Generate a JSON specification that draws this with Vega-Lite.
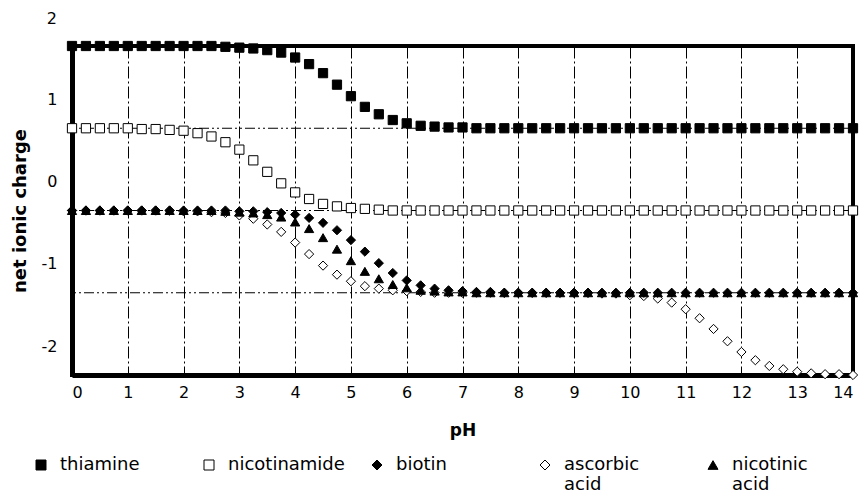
{
  "$schema": "https://vega.github.io/schema/vega-lite/v6.json",
  "width": 781,
  "height": 329,
  "autosize": {"type": "none"},
  "padding": {"left": 72, "top": 46, "right": 10, "bottom": 120},
  "background": "white",
  "config": {
    "font": "DejaVu Sans",
    "view": {"stroke": "black", "strokeWidth": 4},
    "axis": {"labelColor": "black", "titleColor": "black", "labelFont": "DejaVu Sans", "titleFont": "DejaVu Sans"},
    "legend": {
      "orient": "none", "legendX": -40, "legendY": 410,
      "direction": "horizontal", "columns": 5, "gridAlign": "all", "columnPadding": 23,
      "symbolStrokeWidth": 1,
      "labelFontSize": 18, "labelColor": "black", "labelOffset": 10, "labelLimit": 300,
      "labelBaseline": "middle"
    }
  },
  "layer": [
    {
      "data": {"values": [{"g": 0.65}, {"g": -0.35}, {"g": -1.35}]},
      "mark": {"type": "rule", "color": "black", "strokeWidth": 1, "strokeDash": [10, 3, 2, 3, 2, 3]},
      "encoding": {
        "y": {"field": "g", "type": "quantitative", "title": "net ionic charge"}
      }
    },
    {
      "data": {"values": [
        {"s":"ascorbic acid","pH":0,"q":-0.35},{"s":"ascorbic acid","pH":0.25,"q":-0.35},{"s":"ascorbic acid","pH":0.5,"q":-0.35},{"s":"ascorbic acid","pH":0.75,"q":-0.35},{"s":"ascorbic acid","pH":1,"q":-0.35},{"s":"ascorbic acid","pH":1.25,"q":-0.35},{"s":"ascorbic acid","pH":1.5,"q":-0.35},{"s":"ascorbic acid","pH":1.75,"q":-0.35},{"s":"ascorbic acid","pH":2,"q":-0.36},{"s":"ascorbic acid","pH":2.25,"q":-0.36},{"s":"ascorbic acid","pH":2.5,"q":-0.37},{"s":"ascorbic acid","pH":2.75,"q":-0.38},{"s":"ascorbic acid","pH":3,"q":-0.41},{"s":"ascorbic acid","pH":3.25,"q":-0.45},{"s":"ascorbic acid","pH":3.5,"q":-0.52},{"s":"ascorbic acid","pH":3.75,"q":-0.61},{"s":"ascorbic acid","pH":4,"q":-0.74},{"s":"ascorbic acid","pH":4.25,"q":-0.88},{"s":"ascorbic acid","pH":4.5,"q":-1.02},{"s":"ascorbic acid","pH":4.75,"q":-1.13},{"s":"ascorbic acid","pH":5,"q":-1.21},{"s":"ascorbic acid","pH":5.25,"q":-1.27},{"s":"ascorbic acid","pH":5.5,"q":-1.3},{"s":"ascorbic acid","pH":5.75,"q":-1.32},{"s":"ascorbic acid","pH":6,"q":-1.33},{"s":"ascorbic acid","pH":6.25,"q":-1.34},{"s":"ascorbic acid","pH":6.5,"q":-1.35},{"s":"ascorbic acid","pH":6.75,"q":-1.35},{"s":"ascorbic acid","pH":7,"q":-1.35},{"s":"ascorbic acid","pH":7.25,"q":-1.35},{"s":"ascorbic acid","pH":7.5,"q":-1.35},{"s":"ascorbic acid","pH":7.75,"q":-1.35},{"s":"ascorbic acid","pH":8,"q":-1.35},{"s":"ascorbic acid","pH":8.25,"q":-1.35},{"s":"ascorbic acid","pH":8.5,"q":-1.35},{"s":"ascorbic acid","pH":8.75,"q":-1.35},{"s":"ascorbic acid","pH":9,"q":-1.35},{"s":"ascorbic acid","pH":9.25,"q":-1.35},{"s":"ascorbic acid","pH":9.5,"q":-1.36},{"s":"ascorbic acid","pH":9.75,"q":-1.36},{"s":"ascorbic acid","pH":10,"q":-1.38},{"s":"ascorbic acid","pH":10.25,"q":-1.39},{"s":"ascorbic acid","pH":10.5,"q":-1.42},{"s":"ascorbic acid","pH":10.75,"q":-1.47},{"s":"ascorbic acid","pH":11,"q":-1.55},{"s":"ascorbic acid","pH":11.25,"q":-1.66},{"s":"ascorbic acid","pH":11.5,"q":-1.79},{"s":"ascorbic acid","pH":11.75,"q":-1.94},{"s":"ascorbic acid","pH":12,"q":-2.07},{"s":"ascorbic acid","pH":12.25,"q":-2.17},{"s":"ascorbic acid","pH":12.5,"q":-2.24},{"s":"ascorbic acid","pH":12.75,"q":-2.28},{"s":"ascorbic acid","pH":13,"q":-2.31},{"s":"ascorbic acid","pH":13.25,"q":-2.33},{"s":"ascorbic acid","pH":13.5,"q":-2.34},{"s":"ascorbic acid","pH":13.75,"q":-2.34},{"s":"ascorbic acid","pH":14,"q":-2.35},
        {"s":"nicotinamide","pH":0,"q":0.65},{"s":"nicotinamide","pH":0.25,"q":0.65},{"s":"nicotinamide","pH":0.5,"q":0.65},{"s":"nicotinamide","pH":0.75,"q":0.65},{"s":"nicotinamide","pH":1,"q":0.65},{"s":"nicotinamide","pH":1.25,"q":0.64},{"s":"nicotinamide","pH":1.5,"q":0.64},{"s":"nicotinamide","pH":1.75,"q":0.63},{"s":"nicotinamide","pH":2,"q":0.62},{"s":"nicotinamide","pH":2.25,"q":0.59},{"s":"nicotinamide","pH":2.5,"q":0.55},{"s":"nicotinamide","pH":2.75,"q":0.48},{"s":"nicotinamide","pH":3,"q":0.39},{"s":"nicotinamide","pH":3.25,"q":0.26},{"s":"nicotinamide","pH":3.5,"q":0.12},{"s":"nicotinamide","pH":3.75,"q":-0.02},{"s":"nicotinamide","pH":4,"q":-0.13},{"s":"nicotinamide","pH":4.25,"q":-0.21},{"s":"nicotinamide","pH":4.5,"q":-0.27},{"s":"nicotinamide","pH":4.75,"q":-0.3},{"s":"nicotinamide","pH":5,"q":-0.32},{"s":"nicotinamide","pH":5.25,"q":-0.33},{"s":"nicotinamide","pH":5.5,"q":-0.34},{"s":"nicotinamide","pH":5.75,"q":-0.35},{"s":"nicotinamide","pH":6,"q":-0.35},{"s":"nicotinamide","pH":6.25,"q":-0.35},{"s":"nicotinamide","pH":6.5,"q":-0.35},{"s":"nicotinamide","pH":6.75,"q":-0.35},{"s":"nicotinamide","pH":7,"q":-0.35},{"s":"nicotinamide","pH":7.25,"q":-0.35},{"s":"nicotinamide","pH":7.5,"q":-0.35},{"s":"nicotinamide","pH":7.75,"q":-0.35},{"s":"nicotinamide","pH":8,"q":-0.35},{"s":"nicotinamide","pH":8.25,"q":-0.35},{"s":"nicotinamide","pH":8.5,"q":-0.35},{"s":"nicotinamide","pH":8.75,"q":-0.35},{"s":"nicotinamide","pH":9,"q":-0.35},{"s":"nicotinamide","pH":9.25,"q":-0.35},{"s":"nicotinamide","pH":9.5,"q":-0.35},{"s":"nicotinamide","pH":9.75,"q":-0.35},{"s":"nicotinamide","pH":10,"q":-0.35},{"s":"nicotinamide","pH":10.25,"q":-0.35},{"s":"nicotinamide","pH":10.5,"q":-0.35},{"s":"nicotinamide","pH":10.75,"q":-0.35},{"s":"nicotinamide","pH":11,"q":-0.35},{"s":"nicotinamide","pH":11.25,"q":-0.35},{"s":"nicotinamide","pH":11.5,"q":-0.35},{"s":"nicotinamide","pH":11.75,"q":-0.35},{"s":"nicotinamide","pH":12,"q":-0.35},{"s":"nicotinamide","pH":12.25,"q":-0.35},{"s":"nicotinamide","pH":12.5,"q":-0.35},{"s":"nicotinamide","pH":12.75,"q":-0.35},{"s":"nicotinamide","pH":13,"q":-0.35},{"s":"nicotinamide","pH":13.25,"q":-0.35},{"s":"nicotinamide","pH":13.5,"q":-0.35},{"s":"nicotinamide","pH":13.75,"q":-0.35},{"s":"nicotinamide","pH":14,"q":-0.35},
        {"s":"thiamine","pH":0,"q":1.65},{"s":"thiamine","pH":0.25,"q":1.65},{"s":"thiamine","pH":0.5,"q":1.65},{"s":"thiamine","pH":0.75,"q":1.65},{"s":"thiamine","pH":1,"q":1.65},{"s":"thiamine","pH":1.25,"q":1.65},{"s":"thiamine","pH":1.5,"q":1.65},{"s":"thiamine","pH":1.75,"q":1.65},{"s":"thiamine","pH":2,"q":1.65},{"s":"thiamine","pH":2.25,"q":1.65},{"s":"thiamine","pH":2.5,"q":1.65},{"s":"thiamine","pH":2.75,"q":1.64},{"s":"thiamine","pH":3,"q":1.63},{"s":"thiamine","pH":3.25,"q":1.62},{"s":"thiamine","pH":3.5,"q":1.6},{"s":"thiamine","pH":3.75,"q":1.57},{"s":"thiamine","pH":4,"q":1.51},{"s":"thiamine","pH":4.25,"q":1.43},{"s":"thiamine","pH":4.5,"q":1.32},{"s":"thiamine","pH":4.75,"q":1.18},{"s":"thiamine","pH":5,"q":1.04},{"s":"thiamine","pH":5.25,"q":0.91},{"s":"thiamine","pH":5.5,"q":0.82},{"s":"thiamine","pH":5.75,"q":0.75},{"s":"thiamine","pH":6,"q":0.71},{"s":"thiamine","pH":6.25,"q":0.68},{"s":"thiamine","pH":6.5,"q":0.67},{"s":"thiamine","pH":6.75,"q":0.66},{"s":"thiamine","pH":7,"q":0.66},{"s":"thiamine","pH":7.25,"q":0.65},{"s":"thiamine","pH":7.5,"q":0.65},{"s":"thiamine","pH":7.75,"q":0.65},{"s":"thiamine","pH":8,"q":0.65},{"s":"thiamine","pH":8.25,"q":0.65},{"s":"thiamine","pH":8.5,"q":0.65},{"s":"thiamine","pH":8.75,"q":0.65},{"s":"thiamine","pH":9,"q":0.65},{"s":"thiamine","pH":9.25,"q":0.65},{"s":"thiamine","pH":9.5,"q":0.65},{"s":"thiamine","pH":9.75,"q":0.65},{"s":"thiamine","pH":10,"q":0.65},{"s":"thiamine","pH":10.25,"q":0.65},{"s":"thiamine","pH":10.5,"q":0.65},{"s":"thiamine","pH":10.75,"q":0.65},{"s":"thiamine","pH":11,"q":0.65},{"s":"thiamine","pH":11.25,"q":0.65},{"s":"thiamine","pH":11.5,"q":0.65},{"s":"thiamine","pH":11.75,"q":0.65},{"s":"thiamine","pH":12,"q":0.65},{"s":"thiamine","pH":12.25,"q":0.65},{"s":"thiamine","pH":12.5,"q":0.65},{"s":"thiamine","pH":12.75,"q":0.65},{"s":"thiamine","pH":13,"q":0.65},{"s":"thiamine","pH":13.25,"q":0.65},{"s":"thiamine","pH":13.5,"q":0.65},{"s":"thiamine","pH":13.75,"q":0.65},{"s":"thiamine","pH":14,"q":0.65},
        {"s":"biotin","pH":0,"q":-0.35},{"s":"biotin","pH":0.25,"q":-0.35},{"s":"biotin","pH":0.5,"q":-0.35},{"s":"biotin","pH":0.75,"q":-0.35},{"s":"biotin","pH":1,"q":-0.35},{"s":"biotin","pH":1.25,"q":-0.35},{"s":"biotin","pH":1.5,"q":-0.35},{"s":"biotin","pH":1.75,"q":-0.35},{"s":"biotin","pH":2,"q":-0.35},{"s":"biotin","pH":2.25,"q":-0.35},{"s":"biotin","pH":2.5,"q":-0.35},{"s":"biotin","pH":2.75,"q":-0.35},{"s":"biotin","pH":3,"q":-0.36},{"s":"biotin","pH":3.25,"q":-0.36},{"s":"biotin","pH":3.5,"q":-0.37},{"s":"biotin","pH":3.75,"q":-0.38},{"s":"biotin","pH":4,"q":-0.4},{"s":"biotin","pH":4.25,"q":-0.44},{"s":"biotin","pH":4.5,"q":-0.5},{"s":"biotin","pH":4.75,"q":-0.59},{"s":"biotin","pH":5,"q":-0.71},{"s":"biotin","pH":5.25,"q":-0.85},{"s":"biotin","pH":5.5,"q":-0.99},{"s":"biotin","pH":5.75,"q":-1.11},{"s":"biotin","pH":6,"q":-1.2},{"s":"biotin","pH":6.25,"q":-1.26},{"s":"biotin","pH":6.5,"q":-1.3},{"s":"biotin","pH":6.75,"q":-1.32},{"s":"biotin","pH":7,"q":-1.33},{"s":"biotin","pH":7.25,"q":-1.34},{"s":"biotin","pH":7.5,"q":-1.34},{"s":"biotin","pH":7.75,"q":-1.35},{"s":"biotin","pH":8,"q":-1.35},{"s":"biotin","pH":8.25,"q":-1.35},{"s":"biotin","pH":8.5,"q":-1.35},{"s":"biotin","pH":8.75,"q":-1.35},{"s":"biotin","pH":9,"q":-1.35},{"s":"biotin","pH":9.25,"q":-1.35},{"s":"biotin","pH":9.5,"q":-1.35},{"s":"biotin","pH":9.75,"q":-1.35},{"s":"biotin","pH":10,"q":-1.35},{"s":"biotin","pH":10.25,"q":-1.35},{"s":"biotin","pH":10.5,"q":-1.35},{"s":"biotin","pH":10.75,"q":-1.35},{"s":"biotin","pH":11,"q":-1.35},{"s":"biotin","pH":11.25,"q":-1.35},{"s":"biotin","pH":11.5,"q":-1.35},{"s":"biotin","pH":11.75,"q":-1.35},{"s":"biotin","pH":12,"q":-1.35},{"s":"biotin","pH":12.25,"q":-1.35},{"s":"biotin","pH":12.5,"q":-1.35},{"s":"biotin","pH":12.75,"q":-1.35},{"s":"biotin","pH":13,"q":-1.35},{"s":"biotin","pH":13.25,"q":-1.35},{"s":"biotin","pH":13.5,"q":-1.35},{"s":"biotin","pH":13.75,"q":-1.35},{"s":"biotin","pH":14,"q":-1.35},
        {"s":"nicotinic acid","pH":0,"q":-0.35},{"s":"nicotinic acid","pH":0.25,"q":-0.35},{"s":"nicotinic acid","pH":0.5,"q":-0.35},{"s":"nicotinic acid","pH":0.75,"q":-0.35},{"s":"nicotinic acid","pH":1,"q":-0.35},{"s":"nicotinic acid","pH":1.25,"q":-0.35},{"s":"nicotinic acid","pH":1.5,"q":-0.35},{"s":"nicotinic acid","pH":1.75,"q":-0.35},{"s":"nicotinic acid","pH":2,"q":-0.35},{"s":"nicotinic acid","pH":2.25,"q":-0.35},{"s":"nicotinic acid","pH":2.5,"q":-0.35},{"s":"nicotinic acid","pH":2.75,"q":-0.36},{"s":"nicotinic acid","pH":3,"q":-0.37},{"s":"nicotinic acid","pH":3.25,"q":-0.38},{"s":"nicotinic acid","pH":3.5,"q":-0.4},{"s":"nicotinic acid","pH":3.75,"q":-0.43},{"s":"nicotinic acid","pH":4,"q":-0.49},{"s":"nicotinic acid","pH":4.25,"q":-0.57},{"s":"nicotinic acid","pH":4.5,"q":-0.68},{"s":"nicotinic acid","pH":4.75,"q":-0.82},{"s":"nicotinic acid","pH":5,"q":-0.96},{"s":"nicotinic acid","pH":5.25,"q":-1.09},{"s":"nicotinic acid","pH":5.5,"q":-1.18},{"s":"nicotinic acid","pH":5.75,"q":-1.25},{"s":"nicotinic acid","pH":6,"q":-1.29},{"s":"nicotinic acid","pH":6.25,"q":-1.32},{"s":"nicotinic acid","pH":6.5,"q":-1.33},{"s":"nicotinic acid","pH":6.75,"q":-1.34},{"s":"nicotinic acid","pH":7,"q":-1.34},{"s":"nicotinic acid","pH":7.25,"q":-1.35},{"s":"nicotinic acid","pH":7.5,"q":-1.35},{"s":"nicotinic acid","pH":7.75,"q":-1.35},{"s":"nicotinic acid","pH":8,"q":-1.35},{"s":"nicotinic acid","pH":8.25,"q":-1.35},{"s":"nicotinic acid","pH":8.5,"q":-1.35},{"s":"nicotinic acid","pH":8.75,"q":-1.35},{"s":"nicotinic acid","pH":9,"q":-1.35},{"s":"nicotinic acid","pH":9.25,"q":-1.35},{"s":"nicotinic acid","pH":9.5,"q":-1.35},{"s":"nicotinic acid","pH":9.75,"q":-1.35},{"s":"nicotinic acid","pH":10,"q":-1.35},{"s":"nicotinic acid","pH":10.25,"q":-1.35},{"s":"nicotinic acid","pH":10.5,"q":-1.35},{"s":"nicotinic acid","pH":10.75,"q":-1.35},{"s":"nicotinic acid","pH":11,"q":-1.35},{"s":"nicotinic acid","pH":11.25,"q":-1.35},{"s":"nicotinic acid","pH":11.5,"q":-1.35},{"s":"nicotinic acid","pH":11.75,"q":-1.35},{"s":"nicotinic acid","pH":12,"q":-1.35},{"s":"nicotinic acid","pH":12.25,"q":-1.35},{"s":"nicotinic acid","pH":12.5,"q":-1.35},{"s":"nicotinic acid","pH":12.75,"q":-1.35},{"s":"nicotinic acid","pH":13,"q":-1.35},{"s":"nicotinic acid","pH":13.25,"q":-1.35},{"s":"nicotinic acid","pH":13.5,"q":-1.35},{"s":"nicotinic acid","pH":13.75,"q":-1.35},{"s":"nicotinic acid","pH":14,"q":-1.35}
      ]},
      "mark": {"type": "point", "filled": true, "strokeWidth": 1, "size": 85, "opacity": 1},
      "encoding": {
        "x": {
          "field": "pH", "type": "quantitative", "title": "pH",
          "scale": {"domain": [0, 14], "nice": false},
          "axis": {
            "values": [0,1,2,3,4,5,6,7,8,9,10,11,12,13,14],
            "labelExpr": "'' + datum.value",
            "labelFontSize": 16, "labelPadding": 9, "ticks": false,
            "domainColor": "black", "domainWidth": 5,
            "grid": true, "gridColor": "black", "gridWidth": 1, "gridDash": [12, 3, 2, 3], "gridOpacity": 1,
            "titleFontSize": 17, "titleFontWeight": "bold", "titlePadding": 22
          }
        },
        "y": {
          "field": "q", "type": "quantitative", "title": "net ionic charge",
          "scale": {"domain": [-2.35, 1.65], "nice": false, "zero": false},
          "axis": {
            "values": [-2, -1, 0, 1],
            "labelExpr": "'' + datum.value",
            "labelFontSize": 16, "labelPadding": 15, "ticks": false, "grid": false,
            "domainColor": "black", "domainWidth": 5,
            "titleFontSize": 18, "titleFontWeight": "bold", "titlePadding": 12
          }
        },
        "shape": {
          "field": "s", "type": "nominal",
          "scale": {"domain": ["thiamine", "nicotinamide", "biotin", "ascorbic acid", "nicotinic acid"], "range": ["square", "square", "diamond", "diamond", "triangle-up"]},
          "legend": {"title": null, "labelExpr": "indexof(datum.label, ' ') > 0 ? split(datum.label, ' ') : [datum.label, '']"}
        },
        "fill": {
          "field": "s", "type": "nominal",
          "scale": {"domain": ["thiamine", "nicotinamide", "biotin", "ascorbic acid", "nicotinic acid"], "range": ["black", "white", "black", "white", "black"]},
          "legend": {"title": null, "labelExpr": "indexof(datum.label, ' ') > 0 ? split(datum.label, ' ') : [datum.label, '']"}
        },
        "stroke": {
          "field": "s", "type": "nominal",
          "scale": {"domain": ["thiamine", "nicotinamide", "biotin", "ascorbic acid", "nicotinic acid"], "range": ["black", "black", "black", "black", "black"]},
          "legend": {"title": null, "labelExpr": "indexof(datum.label, ' ') > 0 ? split(datum.label, ' ') : [datum.label, '']"}
        }
      }
    },
    {
      "data": {"values": [{"v": 2}]},
      "mark": {"type": "text", "align": "right", "baseline": "middle", "dx": -15, "dy": 2, "fontSize": 16, "color": "black", "font": "DejaVu Sans"},
      "encoding": {
        "x": {"datum": 0, "type": "quantitative"},
        "y": {"field": "v", "type": "quantitative", "title": "net ionic charge"},
        "text": {"field": "v", "type": "quantitative"}
      }
    }
  ]
}
